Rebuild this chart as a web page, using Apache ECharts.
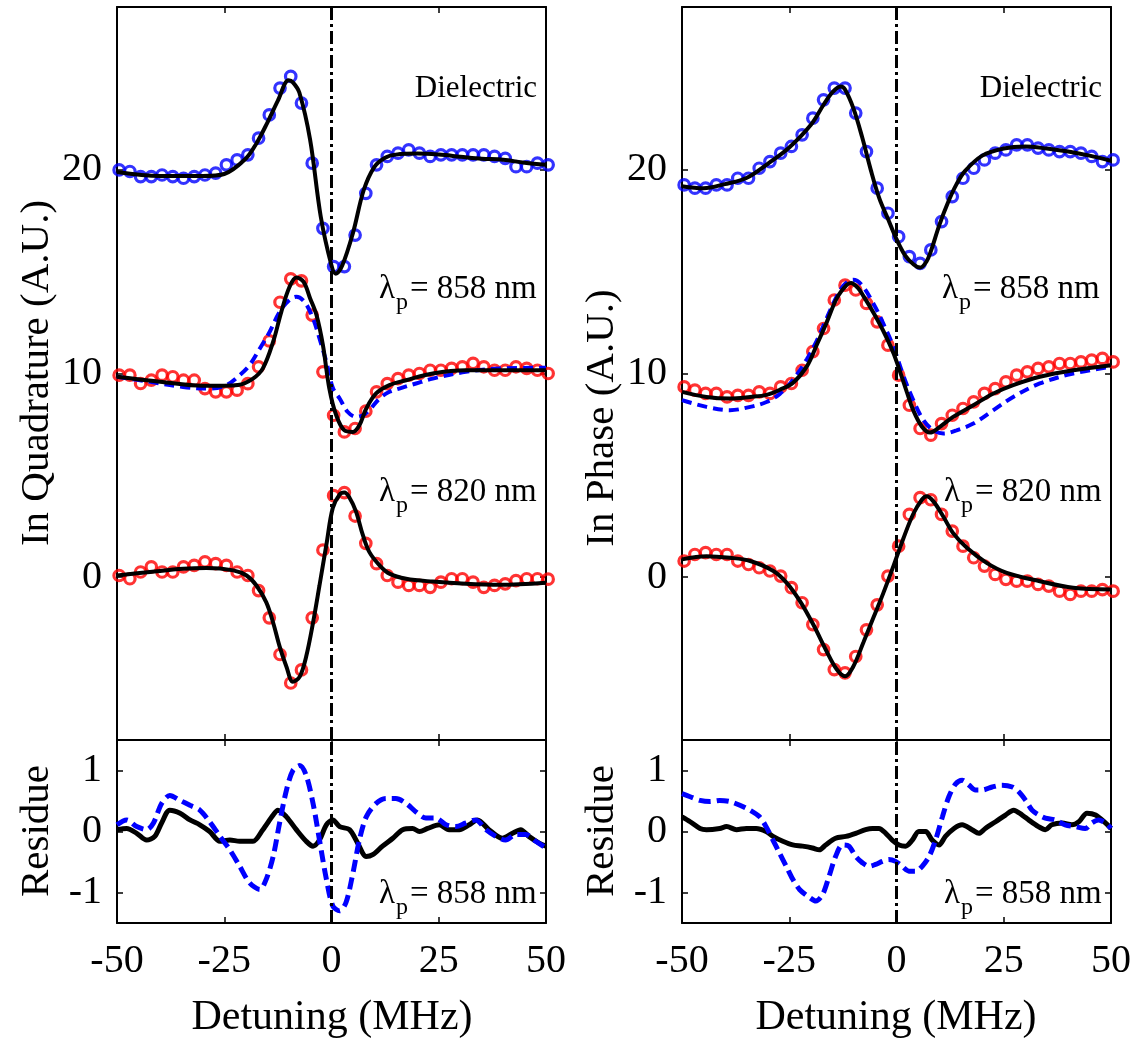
<!DOCTYPE html>
<html><head><meta charset="utf-8">
<script src="https://cdn.jsdelivr.net/npm/echarts@6/dist/echarts.min.js"></script>
<style>html,body{margin:0;padding:0;background:#fff}#c{width:1137px;height:1039px}</style>
</head><body><div id="c"></div>
<script>
// ---------- DATA ----------
// detuning (MHz) of the measured points (circles)
const dataX = [-49.5,-47,-44.5,-42,-39.5,-37,-34.5,-32,-29.5,-27,-24.5,-22,-19.5,-17,-14.5,-12,-9.5,-7,-4.5,-2,0.5,3,5.5,8,10.5,13,15.5,18,20.5,23,25.5,28,30.5,33,35.5,38,40.5,43,45.5,48,50.5];

// In Quadrature panel (left)
const quadDiel = [20.0,19.92,19.67,19.67,19.75,19.67,19.59,19.67,19.75,19.84,20.25,20.49,20.74,21.56,22.7,24.02,24.59,23.28,20.33,17.13,15.25,15.25,16.8,18.85,20.25,20.66,20.82,20.98,20.82,20.66,20.74,20.74,20.74,20.74,20.74,20.66,20.57,20.16,20.16,20.33,20.25];
const quad858 = [9.92,9.92,9.51,9.67,9.92,9.84,9.67,9.67,9.26,9.1,9.1,9.18,9.5,10.33,11.6,13.5,14.65,14.55,12.87,10.08,7.95,7.13,7.3,8.15,9.1,9.5,9.75,9.92,10.0,10.16,10.16,10.25,10.33,10.5,10.33,10.16,10.16,10.33,10.25,10.16,10.0];
const quad820 = [0.08,-0.08,0.25,0.5,0.25,0.25,0.5,0.58,0.75,0.66,0.58,0.25,0.08,-0.66,-2.0,-3.8,-5.2,-4.56,-2.0,1.33,4.0,4.15,3.0,1.66,0.66,0.08,-0.25,-0.41,-0.41,-0.5,-0.25,-0.08,-0.08,-0.25,-0.5,-0.41,-0.33,-0.17,-0.08,-0.08,-0.1];

const quadDielFitX = [-50,-40,-30,-25,-20,-17.5,-15,-12.5,-10,-9,-7.5,-5,-2.5,0,1,2.5,5,7.5,10,12.5,15,20,25,30,35,40,45,50];
const quadDielFitY = [19.9,19.7,19.7,19.8,20.55,21.3,22.3,23.4,24.4,24.3,23.8,21.5,17.7,15.3,14.9,15.3,16.9,19.0,20.15,20.6,20.75,20.8,20.75,20.65,20.55,20.5,20.35,20.25];
const quad858FitX = [-50,-40,-30,-25,-21.8,-18.3,-16.0,-13.6,-11.7,-9.8,-8.2,-6.5,-5.0,-3.5,-2.0,-0.5,1.1,3.0,5.0,6.5,8.1,10.4,13.5,17.4,23.6,31.3,39.1,50];
const quad858FitY = [9.84,9.6,9.4,9.4,9.43,9.75,10.25,11.56,13.03,14.25,14.72,14.5,13.7,12.87,11.39,9.26,7.95,7.21,7.13,7.46,8.28,9.02,9.43,9.67,10.0,10.16,10.16,10.16];
const quad858DieFitX = [-50,-42.3,-34.6,-28.4,-24.5,-21.4,-19.1,-16.7,-14.4,-12.1,-9.8,-8.2,-6.3,-4.3,-2.8,-1.2,0.3,1.9,3.8,5.7,7.3,8.8,11.2,13.5,15.8,19.7,23.6,31.3,39.1,50];
const quad858DieFitY = [9.84,9.59,9.34,9.26,9.43,9.92,10.41,11.23,12.05,13.03,13.61,13.77,13.52,12.7,11.72,10.57,9.3,8.77,8.11,7.87,7.95,8.2,8.77,9.1,9.26,9.51,9.75,10.08,10.25,10.28];
const quad820FitX = [-50,-42.3,-34.6,-29.1,-22.9,-19.8,-17.5,-15.2,-13.6,-12.1,-10.5,-9.0,-7.4,-5.9,-4.3,-2.8,-1.2,0.3,1.9,3.0,4.2,5.7,7.3,8.8,11.2,13.5,17.4,23.6,31.3,39.1,50];
const quad820FitY = [0.08,0.25,0.41,0.45,0.33,0.08,-0.41,-1.24,-2.24,-3.4,-4.4,-5.14,-4.89,-3.9,-2.24,-0.41,1.58,3.4,4.06,4.15,3.9,3.23,2.07,1.24,0.58,0.17,-0.08,-0.22,-0.33,-0.38,-0.28];

const quadResFitX = [-50,-47.75,-45.4,-43.1,-41.2,-39.6,-37.7,-35.3,-33.0,-30.7,-28.4,-26.0,-23.7,-21.4,-18.3,-16.0,-13.6,-12.5,-10.5,-8.2,-5.9,-4.3,-2.8,-1.2,0.3,1.9,4.2,6.1,8.1,9.6,11.9,14.3,16.6,18.9,20.5,22.4,25.1,27.4,29.8,32.1,34.0,36.7,39.8,42.2,44.1,46.0,48.4,50];
const quadResFitY = [0.03,0.05,-0.03,-0.14,-0.08,0.14,0.35,0.30,0.19,0.11,0.0,-0.16,-0.14,-0.16,-0.16,0.03,0.27,0.35,0.24,0.03,-0.16,-0.24,-0.14,0.11,0.19,0.08,0.03,-0.19,-0.41,-0.38,-0.24,-0.11,0.03,0.05,0.0,0.05,0.11,0.03,0.03,0.11,0.19,0.03,-0.11,-0.03,0.03,-0.08,-0.19,-0.24];
const quadResDieX = [-50,-47.75,-45.4,-43.1,-41.5,-39.6,-37.7,-35.3,-33.0,-30.7,-28.4,-26.0,-23.7,-21.4,-19.1,-16.7,-15.2,-13.6,-12.1,-10.5,-9.0,-7.4,-5.9,-4.3,-2.8,-1.2,0.3,1.9,3.4,5.0,6.5,8.1,10.4,12.7,15.0,17.4,19.7,22.0,24.3,26.7,29.0,31.3,33.6,36.0,38.3,40.6,42.9,45.3,47.6,50];
const quadResDieY = [0.11,0.19,0.08,0.03,0.14,0.46,0.59,0.51,0.43,0.35,0.16,-0.08,-0.30,-0.57,-0.84,-0.95,-0.78,-0.41,0.14,0.68,1.0,1.08,0.92,0.46,-0.14,-0.78,-1.22,-1.30,-1.16,-0.68,-0.14,0.24,0.46,0.54,0.54,0.46,0.32,0.22,0.22,0.11,0.08,0.14,0.19,0.03,-0.08,-0.14,-0.05,-0.05,-0.16,-0.27];

// In Phase panel (right)
const phaseDiel = [19.26,19.1,19.1,19.26,19.26,19.59,19.59,20.08,20.41,20.82,21.15,21.72,22.54,23.44,24.02,24.02,22.79,20.9,19.1,17.87,16.72,15.74,15.41,16.07,17.46,18.69,19.59,20.08,20.49,20.82,20.98,21.23,21.23,21.07,20.98,20.9,20.9,20.82,20.66,20.41,20.49];
const phase858 = [9.34,9.18,9.02,9.02,8.85,8.93,8.93,9.1,9.02,9.34,9.51,10.16,11.07,12.21,13.61,14.34,14.1,13.44,12.54,11.39,9.92,8.44,7.3,6.97,7.54,7.95,8.28,8.61,9.02,9.26,9.59,9.92,10.08,10.25,10.33,10.49,10.49,10.57,10.66,10.74,10.57];
const phase820 = [0.79,1.11,1.2,1.11,1.11,0.79,0.62,0.46,0.3,0.05,-0.52,-1.26,-2.33,-3.56,-4.54,-4.7,-3.9,-2.59,-1.36,0.05,1.52,3.08,3.9,3.8,3.08,2.26,1.52,0.95,0.54,0.13,-0.11,-0.2,-0.2,-0.36,-0.44,-0.69,-0.85,-0.69,-0.69,-0.61,-0.69];

const phaseDielFitX = [-50,-45,-40,-35,-30,-25,-20,-17,-15,-13,-12,-10,-8,-6,-4,-2,0,2,4,5.5,7,8,10,12,14,16,20,25,30,35,40,45,50];
const phaseDielFitY = [19.2,19.1,19.3,19.6,20.3,21.1,22.2,23.2,23.8,24.1,23.95,23.0,21.6,20.0,18.6,17.6,16.6,15.8,15.35,15.2,15.5,16.0,17.3,18.4,19.3,19.95,20.7,21.05,21.15,21.05,20.9,20.7,20.45];
const phase858FitX = [-50,-44.3,-38.8,-34.1,-30.3,-27.2,-24.1,-20.9,-18.6,-16.3,-13.9,-11.6,-10.6,-9.0,-7.7,-5.4,-3.1,-0.7,0.8,2.4,3.9,5.9,7.8,10.1,13.2,17.9,22.6,27.2,33.4,41.2,50];
const phase858FitY = [9.1,8.85,8.77,8.85,8.95,9.2,9.55,10.35,11.4,12.5,13.7,14.35,14.45,14.2,13.8,13.0,12.1,11.0,10.1,9.1,8.2,7.4,7.1,7.38,7.87,8.44,9.02,9.43,9.84,10.16,10.41];
const phase858DieFitX = [-50,-44.3,-38.8,-34.1,-30.3,-27.2,-24.1,-20.9,-18.6,-16.3,-13.9,-12.0,-10.1,-8.1,-5.4,-3.1,-0.7,1.6,3.9,6.3,8.6,10.9,14.0,17.9,22.6,27.2,33.4,41.2,50];
const phase858DieFitY = [8.69,8.36,8.2,8.36,8.6,9.0,9.7,10.7,11.6,12.7,13.8,14.4,14.6,14.35,13.44,12.46,11.3,9.9,8.69,7.7,7.21,7.05,7.21,7.54,8.2,8.85,9.51,10.0,10.33];
const phase820FitX = [-50,-44.3,-38.8,-34.1,-28.7,-25.6,-22.5,-19.4,-16.3,-13.9,-12.0,-10.1,-7.7,-5.4,-3.1,-0.7,1.6,3.9,5.9,7.0,8.6,10.9,13.2,16.4,21.0,25.7,33.4,41.2,50];
const phase820FitY = [0.87,1.03,0.95,0.79,0.3,-0.28,-1.18,-2.33,-3.64,-4.54,-4.87,-4.4,-3.2,-2.0,-0.8,0.55,1.9,3.1,3.8,3.97,3.72,2.98,2.16,1.44,0.7,0.21,-0.2,-0.52,-0.61];

const phaseResFitX = [-50,-48.1,-45.8,-44.3,-41.2,-39.6,-37.3,-35.0,-32.7,-30.4,-28.8,-26.5,-24.2,-21.9,-19.6,-18.0,-16.5,-14.2,-11.8,-9.5,-7.2,-5.6,-4.1,-2.5,-1.0,0.6,2.1,3.7,5.2,6.8,8.3,9.9,11.4,13.4,15.3,17.6,19.2,20.7,23.1,25.4,27.3,29.3,30.8,33.1,34.7,36.2,38.6,40.9,42.5,44.4,46.4,48.7,50];
const phaseResFitY = [0.24,0.16,0.05,0.03,0.05,0.08,0.03,0.05,0.05,0.0,-0.08,-0.16,-0.22,-0.24,-0.27,-0.3,-0.22,-0.11,-0.08,-0.03,0.03,0.05,0.05,-0.03,-0.14,-0.22,-0.24,-0.14,0.0,0.0,-0.14,-0.22,-0.08,0.05,0.11,0.03,-0.03,0.05,0.16,0.27,0.35,0.27,0.19,0.08,0.03,0.11,0.14,0.11,0.16,0.3,0.27,0.14,0.05];
const phaseResDieX = [-50,-48.1,-45.8,-43.5,-41.2,-38.8,-36.5,-34.2,-31.9,-30.4,-28.8,-27.3,-25.7,-24.2,-22.6,-20.3,-18.8,-17.2,-15.7,-14.2,-12.6,-11.1,-9.5,-8.0,-6.4,-4.9,-3.3,-1.8,-0.2,1.3,2.9,4.5,6.0,7.6,9.1,10.7,12.2,13.8,15.3,16.9,18.4,20.0,22.3,24.6,27.0,28.5,30.1,31.6,33.2,34.7,37.0,39.3,41.7,44.0,45.5,47.1,48.7,50];
const phaseResDieY = [0.62,0.57,0.51,0.49,0.51,0.49,0.43,0.35,0.24,0.08,-0.14,-0.35,-0.57,-0.78,-0.95,-1.08,-1.14,-1.03,-0.73,-0.41,-0.22,-0.24,-0.41,-0.51,-0.57,-0.54,-0.49,-0.46,-0.49,-0.57,-0.65,-0.65,-0.57,-0.41,-0.14,0.24,0.57,0.78,0.84,0.76,0.68,0.68,0.73,0.76,0.73,0.65,0.51,0.35,0.27,0.22,0.19,0.11,0.08,0.05,0.14,0.19,0.14,0.05];

// axis ticks / labels
const xTicks = [-50, -25, 0, 25, 50];
const mainYTicks = [0, 10, 20];
const resYTicks = [-1, 0, 1];

// ---------- CHART ----------
const FONT = '"Liberation Serif", "Times New Roman", serif';
const pairs = (xs, ys) => xs.map((x, i) => [x, ys[i]]);

const grids = [
  {left: 117, top: 7, width: 429, height: 733},
  {left: 117, top: 740, width: 429, height: 183},
  {left: 682, top: 7, width: 429, height: 733},
  {left: 682, top: 740, width: 429, height: 183}
];

const axLine = {show: true, onZero: false, lineStyle: {color: '#000', width: 2}};
const xAxes = [], yAxes = [];
grids.forEach((g, gi) => {
  const isRes = gi % 2 === 1;
  ['bottom', 'top'].forEach(pos => {
    xAxes.push({
      type: 'value', gridIndex: gi, position: pos, min: -50, max: 50, interval: 25,
      axisLine: axLine,
      axisTick: {show: true, inside: true, length: 6, lineStyle: {color: '#000', width: 1.5}},
      axisLabel: {show: isRes && pos === 'bottom', fontSize: 40, fontFamily: FONT, color: '#000', margin: 18,
                  formatter: v => xTicks.indexOf(v) >= 0 ? String(v) : ''},
      splitLine: {show: false}
    });
  });
  ['left', 'right'].forEach(pos => {
    const t = isRes ? resYTicks : mainYTicks;
    yAxes.push({
      type: 'value', gridIndex: gi, position: pos,
      min: isRes ? -1.5 : -8, max: isRes ? 1.5 : 28,
      axisLine: axLine,
      axisTick: {show: true, inside: true, length: 6, customValues: t, lineStyle: {color: '#000', width: 1.5}},
      axisLabel: {show: pos === 'left', customValues: t, fontSize: 40, fontFamily: FONT, color: '#000', margin: 15},
      splitLine: {show: false}
    });
  });
});

const zeroLine = {
  silent: true, symbol: ['none', 'none'], label: {show: false}, animation: false,
  lineStyle: {color: '#000', width: 3, type: [13, 4, 3, 4]},
  data: [{xAxis: 0}]
};

function circles(gi, ys, color, withZero) {
  const s = {
    type: 'scatter', xAxisIndex: gi * 2, yAxisIndex: gi * 2, data: pairs(dataX, ys),
    symbol: 'circle', symbolSize: 10.5, clip: false, z: 2, silent: true,
    itemStyle: {color: 'rgba(0,0,0,0)', borderColor: color, borderWidth: 3.2}
  };
  if (withZero) s.markLine = zeroLine;
  return s;
}
function curve(gi, xs, ys, color, width, dashed, z) {
  return {
    type: 'line', xAxisIndex: gi * 2, yAxisIndex: gi * 2, data: pairs(xs, ys),
    showSymbol: false, smooth: 0.35, z: z, silent: true,
    lineStyle: {color: color, width: width, type: dashed ? dashed : 'solid'}
  };
}
function resCurve(gi, xs, ys, color, width, dashed, z, withZero) {
  const s = curve(gi, xs, ys, color, width, dashed, z);
  s.smooth = 0.3;
  if (withZero) s.markLine = zeroLine;
  return s;
}

const series = [
  // left main
  circles(0, quadDiel, '#0000ff', true),
  circles(0, quad858, '#ff0000'),
  circles(0, quad820, '#ff0000'),
  curve(0, quad858DieFitX, quad858DieFitY, '#0000ff', 4, [10, 6], 3),
  curve(0, quadDielFitX, quadDielFitY, '#000', 4, null, 4),
  curve(0, quad858FitX, quad858FitY, '#000', 4, null, 4),
  curve(0, quad820FitX, quad820FitY, '#000', 4, null, 4),
  // left residue
  resCurve(1, quadResFitX, quadResFitY, '#000', 5, null, 3, true),
  resCurve(1, quadResDieX, quadResDieY, '#0000ff', 5, [12, 6], 4),
  // right main
  circles(2, phaseDiel, '#0000ff', true),
  circles(2, phase858, '#ff0000'),
  circles(2, phase820, '#ff0000'),
  curve(2, phase858DieFitX, phase858DieFitY, '#0000ff', 4, [10, 6], 3),
  curve(2, phaseDielFitX, phaseDielFitY, '#000', 4, null, 4),
  curve(2, phase858FitX, phase858FitY, '#000', 4, null, 4),
  curve(2, phase820FitX, phase820FitY, '#000', 4, null, 4),
  // right residue
  resCurve(3, phaseResFitX, phaseResFitY, '#000', 5, null, 3, true),
  resCurve(3, phaseResDieX, phaseResDieY, '#0000ff', 5, [12, 6], 4)
];

function txt(x, y, text, size, align, rot) {
  return {type: 'text', x: x, y: y, rotation: rot || 0, z: 100, silent: true,
    style: {text: text, font: size + 'px ' + FONT, fill: '#000', align: align || 'left', verticalAlign: 'middle'}};
}
function lam(x0, yc, rest) {
  return [txt(x0, yc, 'λ', 33), txt(x0 + 17, yc + 14, 'p', 24), txt(x0 + 31, yc, rest, 33)];
}

const graphic = [
  txt(37, 373, 'In Quadrature (A.U.)', 41, 'center', Math.PI / 2),
  txt(37, 831, 'Residue', 41, 'center', Math.PI / 2),
  txt(602, 418, 'In Phase (A.U.)', 41, 'center', Math.PI / 2),
  txt(602, 831, 'Residue', 41, 'center', Math.PI / 2),
  txt(332, 1018, 'Detuning (MHz)', 42, 'center'),
  txt(896, 1018, 'Detuning (MHz)', 42, 'center'),
  txt(537, 89, 'Dielectric', 31, 'right'),
  txt(1102, 89, 'Dielectric', 31, 'right')
].concat(
  lam(379, 289, '= 858 nm'), lam(379, 492, '= 820 nm'), lam(379, 894, '= 858 nm'),
  lam(942, 289, '= 858 nm'), lam(944, 492, '= 820 nm'), lam(944, 894, '= 858 nm')
);

const chart = echarts.init(document.getElementById('c'), null, {renderer: 'canvas'});
chart.setOption({
  backgroundColor: '#fff',
  animation: false,
  grid: grids,
  xAxis: xAxes,
  yAxis: yAxes,
  series: series,
  graphic: graphic
});
</script>
</body></html>
